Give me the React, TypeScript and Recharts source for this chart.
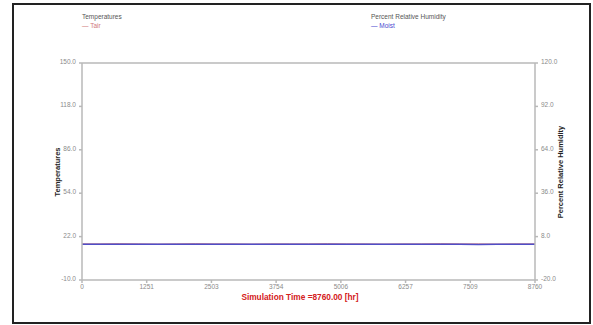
import React from "react";
import {
  LineChart,
  Line,
  XAxis,
  YAxis,
  ReferenceLine,
} from "recharts";

// Simulation hours and the two traced series
const hours = [
  0, 365, 730, 1095, 1460, 1825, 2190, 2555, 2920, 3285, 3650, 4015, 4380,
  4745, 5110, 5475, 5840, 6205, 6570, 6935, 7300, 7665, 8030, 8395, 8760,
];
const tair = [
  16.5, 16.5, 16.6, 16.5, 16.4, 16.5, 16.6, 16.5, 16.5, 16.4, 16.5, 16.5, 16.5,
  16.6, 16.5, 16.5, 16.4, 16.5, 16.5, 16.6, 16.5, 16.5, 16.4, 16.5, 16.5,
];
const moist = [
  3.0, 3.0, 3.1, 3.0, 3.0, 3.1, 3.0, 3.0, 3.1, 3.0, 3.0, 3.0, 3.0,
  3.0, 3.0, 3.0, 3.0, 3.0, 3.1, 3.0, 3.0, 2.9, 3.0, 3.0, 3.0,
];

const xTicks = [0, 1251, 2503, 3754, 5006, 6257, 7509, 8760];
const tempTicks = [-10, 22, 54, 86, 118, 150];
const rhTicks = [-20, 8, 36, 64, 92, 120];

const data = hours.map((h, i) => ({ h, tair: tair[i], moist: moist[i] }));

const font = "'Liberation Sans', Arial, sans-serif";
const tickColor = "#8a8a8a";
const axisGrey = "#b8b8b8";

// plain grey tick text, so the axis stroke does not tint it
const makeTick = (anchor: "start" | "middle" | "end", dx: number, dy: number, fmt: (v: number) => string) =>
  (props: any) => {
    const { x, y, payload } = props;
    return (
      <text
        x={x + dx}
        y={y + dy}
        textAnchor={anchor}
        fill={tickColor}
        fontSize={6.5}
        fontFamily={font}
      >
        {fmt(payload.value)}
      </text>
    );
  };

const fixed1 = (v: number) => v.toFixed(1);

export default function App() {
  return (
    <div
      style={{
        position: "absolute",
        left: 0,
        top: 0,
        width: 593,
        height: 325,
        background: "#fff",
        fontFamily: font,
      }}
    >
      {/* outer frame */}
      <div
        style={{
          position: "absolute",
          left: 12,
          top: 3,
          width: 579,
          height: 321,
          border: "2px solid #222",
          boxSizing: "border-box",
        }}
      />

      {/* legends */}
      <div style={{ position: "absolute", left: 82, top: 12, fontSize: 6.5, color: "#555", lineHeight: "9px" }}>
        <div>Temperatures</div>
        <div style={{ color: "#d07a7a" }}>— Tair</div>
      </div>
      <div style={{ position: "absolute", left: 371, top: 12, fontSize: 6.5, color: "#555", lineHeight: "9px" }}>
        <div>Percent Relative Humidity</div>
        <div style={{ color: "#4a4ad0" }}>— Moist</div>
      </div>

      <LineChart
        width={593}
        height={325}
        data={data}
        margin={{ top: 63, right: 28, left: 52, bottom: 25 }}
        style={{ position: "absolute", left: 0, top: 0 }}
      >
        <XAxis
          dataKey="h"
          type="number"
          domain={[0, 8760]}
          ticks={xTicks}
          interval={0}
          height={20}
          tick={makeTick("middle", 0, 4, (v) => String(v))}
          tickSize={3}
          stroke={axisGrey}
          strokeWidth={1.5}
        />
        <YAxis
          yAxisId="left"
          type="number"
          domain={[-10, 150]}
          ticks={tempTicks}
          interval={0}
          width={30}
          tick={makeTick("end", -1, 1, fixed1)}
          tickSize={3}
          stroke={axisGrey}
          strokeWidth={1.5}
        />
        <YAxis
          yAxisId="right"
          orientation="right"
          type="number"
          domain={[-20, 120]}
          ticks={rhTicks}
          interval={0}
          width={30}
          tick={makeTick("start", 1, 1, fixed1)}
          tickSize={3}
          stroke={axisGrey}
          strokeWidth={1.5}
        />
        <ReferenceLine yAxisId="left" y={150} stroke={axisGrey} strokeWidth={1.5} />
        <Line
          yAxisId="left"
          dataKey="tair"
          stroke="#c04040"
          strokeWidth={1}
          dot={false}
          isAnimationActive={false}
        />
        <Line
          yAxisId="right"
          dataKey="moist"
          stroke="#4f4fc8"
          strokeWidth={1.5}
          dot={false}
          isAnimationActive={false}
        />
      </LineChart>

      {/* axis titles */}
      <div
        style={{
          position: "absolute",
          left: 57,
          top: 172,
          transform: "translate(-50%, -50%) rotate(-90deg)",
          fontSize: 7.5,
          fontWeight: "bold",
          color: "#222",
          whiteSpace: "nowrap",
        }}
      >
        Temperatures
      </div>
      <div
        style={{
          position: "absolute",
          left: 560,
          top: 172,
          transform: "translate(-50%, -50%) rotate(-90deg)",
          fontSize: 7.5,
          fontWeight: "bold",
          color: "#222",
          whiteSpace: "nowrap",
        }}
      >
        Percent Relative Humidity
      </div>
      <div
        style={{
          position: "absolute",
          left: 300,
          top: 297,
          transform: "translate(-50%, -50%)",
          fontSize: 8.3,
          fontWeight: "bold",
          color: "#d42020",
          whiteSpace: "nowrap",
        }}
      >
        Simulation Time =8760.00 [hr]
      </div>
    </div>
  );
}
